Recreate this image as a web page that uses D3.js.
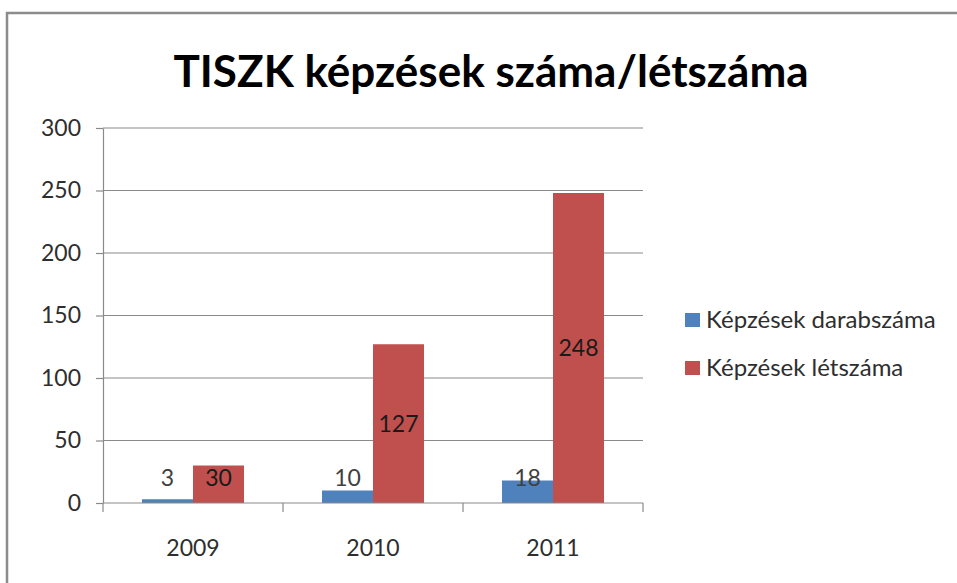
<!DOCTYPE html>
<html>
<head>
<meta charset="utf-8">
<script src="https://cdn.jsdelivr.net/npm/d3@7"></script>
<style>
  html, body { margin: 0; padding: 0; background: #fff; }
  svg { display: block; font-family: Lato, "Open Sans", sans-serif; }
</style>
</head>
<body>
<svg id="chart" width="957" height="583"></svg>
<script>
// chart data
const years = ["2009", "2010", "2011"];
const seriesNames = ["Képzések darabszáma", "Képzések létszáma"];
const darabszam = [3, 10, 18];
const letszam = [30, 127, 248];
const yTicks = [0, 50, 100, 150, 200, 250, 300];
const colors = ["#4F81BD", "#C0504D"];

const TS = (x, y) => `translate(${[x, y]})`;

const svg = d3.select("#chart");
const margin = { left: 103, top: 128, right: 314, bottom: 80 };
const W = 957, H = 583;
const figW = W - margin.left - margin.right;
const figH = H - margin.top - margin.bottom;

// outer frame of the chart (cut off at right/bottom like in the picture)
svg.append("rect")
  .attr("x", 7).attr("y", 13)
  .attr("width", 980).attr("height", 620)
  .attr("fill", "#fff")
  .attr("stroke", "#8c8c8c")
  .attr("stroke-width", 2.5);

// title
svg.append("text")
  .attr("x", 491).attr("y", 87)
  .attr("text-anchor", "middle")
  .attr("font-size", 44)
  .attr("font-weight", "bold")
  .attr("fill", "#000")
  .text("TISZK képzések száma/létszáma");

const fig = svg.append("g").attr("transform", TS(margin.left, margin.top));

const x0 = d3.scaleBand().domain(years).range([0, figW]).padding(0);
const x1 = d3.scaleBand().domain(seriesNames).range([0, x0.bandwidth()])
  .paddingInner(0).paddingOuter(0.765);
const y = d3.scaleLinear().domain([0, 300]).range([figH, 0]);

// gridlines
fig.append("g")
  .selectAll("line")
  .data(yTicks.filter(d => d > 0))
  .join("line")
  .attr("x1", 0).attr("x2", figW)
  .attr("y1", d => y(d)).attr("y2", d => y(d))
  .attr("stroke", "#8a8a8a")
  .attr("stroke-width", 1.2);

// y axis
const yAxis = fig.append("g")
  .call(d3.axisLeft(y).tickValues(yTicks).tickSize(7).tickPadding(15).tickSizeOuter(0));
yAxis.select(".domain").attr("stroke", "#8a8a8a").attr("stroke-width", 1.2);
yAxis.selectAll(".tick line").attr("stroke", "#8a8a8a").attr("stroke-width", 1.2);
yAxis.selectAll("text")
  .attr("font-size", 23)
  .attr("font-family", "Lato, 'Open Sans', sans-serif")
  .attr("fill", "#2e2e2e");

// bars
const rows = years.map((yr, i) => ({
  year: yr,
  values: [
    { name: seriesNames[0], value: darabszam[i], color: colors[0] },
    { name: seriesNames[1], value: letszam[i], color: colors[1] }
  ]
}));

const groups = fig.append("g")
  .selectAll("g")
  .data(rows)
  .join("g")
  .attr("transform", d => TS(x0(d.year), 0));

groups.selectAll("rect")
  .data(d => d.values)
  .join("rect")
  .attr("x", d => x1(d.name))
  .attr("y", d => y(d.value))
  .attr("width", x1.bandwidth())
  .attr("height", d => figH - y(d.value))
  .attr("fill", d => d.color);

// data labels (centred in the bar, but kept above the base for short bars)
groups.selectAll("text")
  .data(d => d.values)
  .join("text")
  .attr("x", d => x1(d.name) + x1.bandwidth() / 2)
  .attr("y", d => Math.min((y(d.value) + figH) / 2, figH - 25))
  .attr("dy", "0.35em")
  .attr("text-anchor", "middle")
  .attr("font-size", 23)
  .attr("fill", (d, i) => i === 0 ? "#404040" : "#1a1a1a")
  .text(d => d.value);

// x axis
const xAxis = fig.append("g")
  .attr("transform", TS(0, figH));
xAxis.append("line")
  .attr("x1", 0).attr("x2", figW)
  .attr("stroke", "#8a8a8a").attr("stroke-width", 1.2);
xAxis.selectAll("line.tick")
  .data(years.map(d => x0(d)).concat([figW]))
  .join("line")
  .attr("class", "tick")
  .attr("x1", d => d).attr("x2", d => d)
  .attr("y1", 0).attr("y2", 9)
  .attr("stroke", "#8a8a8a").attr("stroke-width", 1.2);
xAxis.selectAll("text")
  .data(years)
  .join("text")
  .attr("x", d => x0(d) + x0.bandwidth() / 2)
  .attr("y", 53)
  .attr("text-anchor", "middle")
  .attr("font-size", 23)
  .attr("fill", "#2e2e2e")
  .text(d => d);

// legend
const legend = svg.append("g").attr("transform", TS(685, 313));
const li = legend.selectAll("g")
  .data(seriesNames)
  .join("g")
  .attr("transform", (d, i) => TS(0, i * 48));
li.append("rect")
  .attr("width", 15).attr("height", 14)
  .attr("fill", (d, i) => colors[i]);
li.append("text")
  .attr("x", 21).attr("y", 15)
  .attr("font-size", 24)
  .attr("fill", "#2e2e2e")
  .text(d => d);
</script>
</body>
</html>
